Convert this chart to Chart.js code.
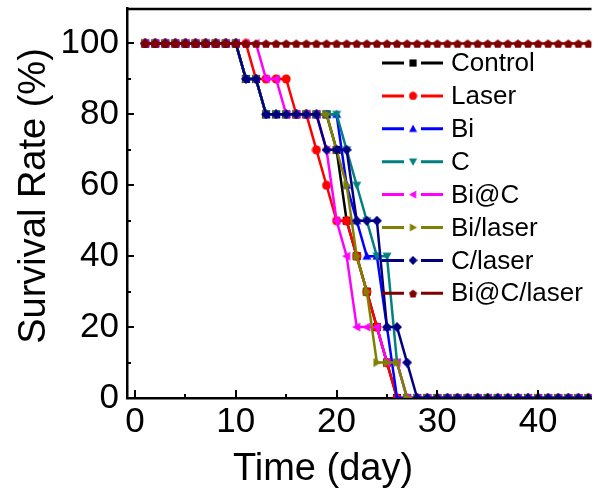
<!DOCTYPE html>
<html lang="en">
<head>
<meta charset="UTF-8">
<title>Survival Rate</title>
<script src="https://cdn.jsdelivr.net/npm/chart.js"></script>
<style>
    html, body { margin: 0; padding: 0; background: #fff; }
    #wrap { width: 598px; height: 497px; }
</style>
</head>
<body>
<div id="wrap"><canvas id="myChart" width="598" height="497"></canvas></div>
<script>
// days on the x axis
const days = [1,2,3,4,5,6,7,8,9,10,11,12,13,14,15,16,17,18,19,20,21,22,23,24,25,26,27,28,29,30,31,32,33,34,35,36,37,38,39,40,41,42,43,44,45];

// survival rate (%) per group, one value per day
const control    = [100,100,100,100,100,100,100,100,100,100,90,90,80,80,80,80,80,80,80,70,50,40,30,20,10,0,0,0,0,0,0,0,0,0,0,0,0,0,0,0,0,0,0,0,0];
const laser      = [100,100,100,100,100,100,100,100,100,100,100,90,90,90,90,80,80,70,60,50,50,40,30,20,10,0,0,0,0,0,0,0,0,0,0,0,0,0,0,0,0,0,0,0,0];
const bi         = [100,100,100,100,100,100,100,100,100,100,90,90,80,80,80,80,80,80,80,80,60,50,40,40,20,0,0,0,0,0,0,0,0,0,0,0,0,0,0,0,0,0,0,0,0];
const cOnly      = [100,100,100,100,100,100,100,100,100,100,90,90,80,80,80,80,80,80,80,80,70,60,50,40,40,10,0,0,0,0,0,0,0,0,0,0,0,0,0,0,0,0,0,0,0];
const biAtC      = [100,100,100,100,100,100,100,100,100,100,100,100,90,90,80,80,80,80,70,50,40,20,20,20,10,10,0,0,0,0,0,0,0,0,0,0,0,0,0,0,0,0,0,0,0];
const biLaser    = [100,100,100,100,100,100,100,100,100,100,90,90,80,80,80,80,80,80,80,70,60,40,30,10,10,10,0,0,0,0,0,0,0,0,0,0,0,0,0,0,0,0,0,0,0];
const cLaser     = [100,100,100,100,100,100,100,100,100,100,90,90,80,80,80,80,80,80,70,70,70,50,50,50,20,20,10,0,0,0,0,0,0,0,0,0,0,0,0,0,0,0,0,0,0];
const biAtCLaser = [100,100,100,100,100,100,100,100,100,100,100,100,100,100,100,100,100,100,100,100,100,100,100,100,100,100,100,100,100,100,100,100,100,100,100,100,100,100,100,100,100,100,100,100,100];

const seriesNames  = ['Control', 'Laser', 'Bi', 'C', 'Bi@C', 'Bi/laser', 'C/laser', 'Bi@C/laser'];
const seriesColors = ['#000000', '#ff0000', '#0000ff', '#008080', '#ff00ff', '#808000', '#000080', '#800000'];
const seriesShapes = ['square', 'circle', 'up', 'down', 'left', 'right', 'diamond', 'pentagon'];

const xTicks = [0, 10, 20, 30, 40];
const xMinorTicks = [5, 15, 25, 35, 45];
const yTicks = [0, 20, 40, 60, 80, 100];
const yMinorTicks = [10, 30, 50, 70, 90];

const FONT = '"Liberation Sans", Arial, sans-serif';

// Origin-like marker symbols as small canvases
function makeMarker(shape, color, size) {
    const c = document.createElement('canvas');
    c.width = size;
    c.height = size;
    const g = c.getContext('2d');
    const h = size / 2;
    const e = size - 0.5;
    g.fillStyle = color;
    g.beginPath();
    if (shape === 'square') {
        g.rect(1, 1, size - 2, size - 2);
    } else if (shape === 'circle') {
        g.arc(h, h, h - 0.5, 0, Math.PI * 2);
    } else if (shape === 'up') {
        g.moveTo(h, 0.5); g.lineTo(e, e - 1); g.lineTo(0.5, e - 1);
    } else if (shape === 'down') {
        g.moveTo(h, e); g.lineTo(e, 1.5); g.lineTo(0.5, 1.5);
    } else if (shape === 'left') {
        g.moveTo(0.5, h); g.lineTo(e - 1, 0.5); g.lineTo(e - 1, e);
    } else if (shape === 'right') {
        g.moveTo(e, h); g.lineTo(1.5, 0.5); g.lineTo(1.5, e);
    } else if (shape === 'diamond') {
        g.moveTo(h, 0); g.lineTo(size, h); g.lineTo(h, size); g.lineTo(0, h);
    } else if (shape === 'pentagon') {
        for (let i = 0; i < 5; i++) {
            const ang = -Math.PI / 2 + i * 2 * Math.PI / 5;
            const px = h + (h - 0.3) * Math.cos(ang);
            const py = h + 0.6 + (h - 0.3) * Math.sin(ang);
            if (i === 0) g.moveTo(px, py); else g.lineTo(px, py);
        }
    }
    g.closePath();
    g.fill();
    return c;
}

const markers = seriesShapes.map((s, i) => makeMarker(s, seriesColors[i], 10));
const seriesData = [control, laser, bi, cOnly, biAtC, biLaser, cLaser, biAtCLaser];

// no extra room for half-labels at the ends of the axes
function noEndPadding(s) {
    s.paddingTop = 0;
    s.paddingBottom = 0;
    s.paddingLeft = 0;
    s.paddingRight = 0;
}

const decorPlugin = {
    id: 'decor',
    afterDraw(chart) {
        const ctx = chart.ctx;
        const xs = chart.scales.x;
        const ys = chart.scales.y;
        const a = chart.chartArea;
        ctx.save();
        ctx.strokeStyle = '#000';
        ctx.lineWidth = 2;

        // inward tick marks
        ctx.beginPath();
        xTicks.forEach(v => { const px = Math.round(xs.getPixelForValue(v)); ctx.moveTo(px, a.bottom); ctx.lineTo(px, a.bottom - 8); });
        xMinorTicks.forEach(v => { const px = Math.round(xs.getPixelForValue(v)); ctx.moveTo(px, a.bottom); ctx.lineTo(px, a.bottom - 4); });
        yTicks.forEach(v => { const py = Math.round(ys.getPixelForValue(v)); ctx.moveTo(a.left, py); ctx.lineTo(a.left + 7, py); });
        yMinorTicks.forEach(v => { const py = Math.round(ys.getPixelForValue(v)); ctx.moveTo(a.left, py); ctx.lineTo(a.left + 4, py); });
        ctx.stroke();

        // top frame line
        ctx.lineWidth = 2.5;
        ctx.beginPath();
        ctx.moveTo(a.left - 1, a.top + 1);
        ctx.lineTo(a.right, a.top + 1);
        ctx.stroke();

        // legend: dash - marker - dash, then label
        ctx.font = '26px ' + FONT;
        ctx.textAlign = 'left';
        ctx.textBaseline = 'middle';
        seriesNames.forEach((name, i) => {
            const y = 63 + i * 32.9;
            ctx.strokeStyle = seriesColors[i];
            ctx.lineWidth = 3;
            ctx.beginPath();
            ctx.moveTo(382, y); ctx.lineTo(404, y);
            ctx.moveTo(421, y); ctx.lineTo(443, y);
            ctx.stroke();
            ctx.drawImage(markers[i], 408.5, y - 4.5, 9, 9);
            ctx.fillStyle = '#000';
            ctx.fillText(name, 451, y + 1);
        });

        // axis titles
        ctx.font = '38px ' + FONT;
        ctx.fillStyle = '#000';
        ctx.textAlign = 'center';
        ctx.textBaseline = 'middle';
        ctx.fillText('Time (day)', 323, 470);
        ctx.translate(35, 196);
        ctx.rotate(-Math.PI / 2);
        ctx.fillText('Survival Rate (%)', 0, 0);
        ctx.restore();
    }
};

const ctx = document.getElementById('myChart').getContext('2d');
const myChart = new Chart(ctx, {
    type: 'line',
    data: {
        datasets: seriesData.map((vals, i) => ({
            label: seriesNames[i],
            data: days.map((d, k) => ({ x: d, y: vals[k] })),
            borderColor: seriesColors[i],
            backgroundColor: seriesColors[i],
            borderWidth: 2.5,
            pointStyle: markers[i],
            tension: 0,
            order: seriesData.length - i
        }))
    },
    options: {
        responsive: false,
        animation: false,
        layout: { padding: { top: 8, right: 0, left: 0, bottom: 0 } },
        plugins: {
            legend: { display: false },
            tooltip: { enabled: false }
        },
        scales: {
            x: {
                type: 'linear',
                min: -0.8,
                max: 45.3,
                afterBuildTicks: s => { s.ticks = xTicks.map(v => ({ value: v })); },
                afterFit: s => { s.height = 99; noEndPadding(s); },
                ticks: { color: '#000', font: { family: FONT, size: 35 }, padding: 3, maxRotation: 0 },
                grid: { display: false, drawTicks: false },
                border: { display: true, color: '#000', width: 2.5 }
            },
            y: {
                min: 0,
                max: 110,
                afterBuildTicks: s => { s.ticks = yTicks.map(v => ({ value: v })); },
                afterFit: s => { s.width = 127; noEndPadding(s); },
                ticks: { color: '#000', font: { family: FONT, size: 35 }, padding: 8 },
                grid: { display: false, drawTicks: false },
                border: { display: true, color: '#000', width: 2.5 }
            }
        }
    },
    plugins: [decorPlugin]
});
</script>
</body>
</html>
